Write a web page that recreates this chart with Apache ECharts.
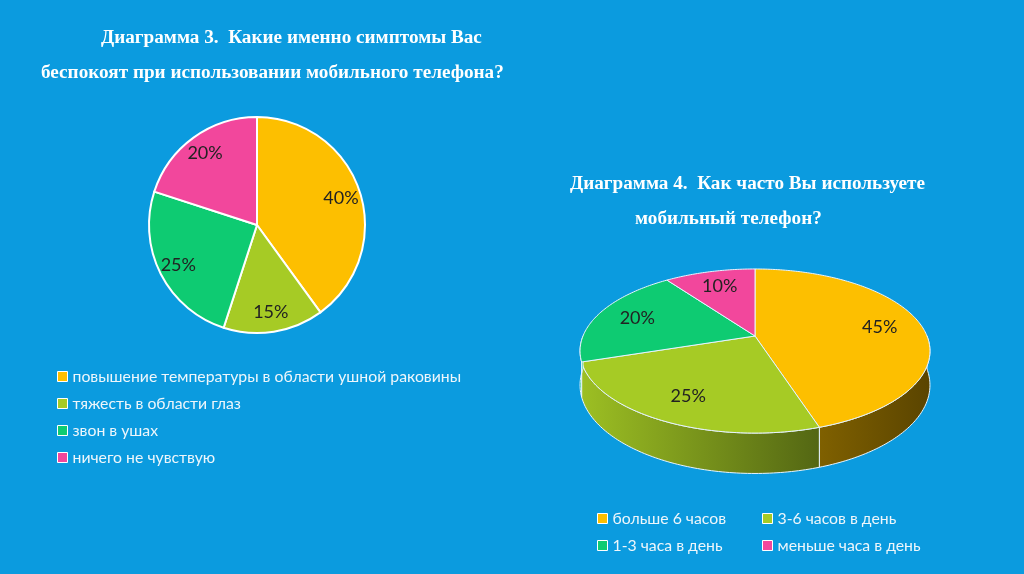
<!DOCTYPE html>
<html>
<head>
<meta charset="utf-8">
<script src="https://cdn.jsdelivr.net/npm/echarts@6/dist/echarts.min.js"></script>
<style>
html,body{margin:0;padding:0;background:#0b9bdf;}
#chart{width:1024px;height:574px;}
</style>
</head>
<body>
<div id="chart"></div>
<script>
// ---- data ----
const titles1 = ['Диаграмма 3.  Какие именно симптомы Вас', 'беспокоят при использовании мобильного телефона?'];
const titles2 = ['Диаграмма 4.  Как часто Вы используете', 'мобильный телефон?'];
const categories1 = ['повышение температуры в области ушной раковины', 'тяжесть в области глаз', 'звон в ушах', 'ничего не чувствую'];
const values1 = [40, 15, 25, 20];
const categories2 = ['больше 6 часов', '3-6 часов в день', '1-3 часа в день', 'меньше часа в день'];
const values2 = [45, 25, 20, 10];
const colors = ['#FDBF00', '#A6CB25', '#0ECB72', '#F2479C'];

// ---- layout ----
const BG = '#0b9bdf';
const P1 = {cx: 257, cy: 225, r: 108};
const P2 = {cx: 755, cy: 336, rx: 172, ry: 79.3, e: 0.183, depth: 33};
const LABEL_FONT = '"Lato", "Open Sans", sans-serif';
const TITLE_FONT = '"Liberation Serif", "DejaVu Serif", serif';

function shade(hex, f) {
  const n = parseInt(hex.slice(1), 16);
  const r = Math.round(((n >> 16) & 255) * f), g = Math.round(((n >> 8) & 255) * f), b = Math.round((n & 255) * f);
  return 'rgb(' + r + ',' + g + ',' + b + ')';
}
function proj(t, f, dy) {
  const a = t * Math.PI / 180;
  const u = f * Math.sin(a), v = f * Math.cos(a);
  const w = 1 + P2.e * v;
  return [P2.cx + P2.rx * u / w, P2.cy + P2.ry * (-v) / w + (dy || 0) / w];
}
function arc(t1, t2, dy) {
  const pts = [];
  const n = Math.max(2, Math.ceil(Math.abs(t2 - t1)));
  for (let k = 0; k <= n; k++) pts.push(proj(t1 + (t2 - t1) * k / n, 1, dy));
  return pts;
}
const total2 = values2.reduce((s, v) => s + v, 0);

function renderPie3d(params, api) {
  const i = params.dataIndex;
  let start = 0;
  for (let j = 0; j < i; j++) start += values2[j];
  const t1 = start / total2 * 360, t2 = (start + api.value(0)) / total2 * 360;
  const col = colors[i];
  const children = [];
  const a = Math.max(t1, 90), b = Math.min(t2, 270);
  if (b > a) {
    const pts = arc(a, b, 0).concat(arc(b, a, P2.depth));
    children.push({
      type: 'polygon', shape: {points: pts},
      style: {
        fill: new echarts.graphic.LinearGradient(P2.cx - P2.rx, 0, P2.cx + P2.rx, 0, [
          {offset: 0, color: shade(col, 0.94)},
          {offset: 0.69, color: shade(col, 0.5)},
          {offset: 1, color: shade(col, 0.36)}
        ], true),
        stroke: '#e8f4ff', lineWidth: 1
      }
    });
  }
  children.push({
    type: 'polygon', shape: {points: [[P2.cx, P2.cy]].concat(arc(t1, t2, 0))},
    style: {fill: col, stroke: '#e8f4ff', lineWidth: 1}
  });
  const lp = proj((t1 + t2) / 2, 0.75, 0);
  children.push({
    type: 'text', z2: 10,
    style: {text: api.value(0) + '%', x: lp[0], y: lp[1], align: 'center', verticalAlign: 'middle',
      fill: '#222222', fontSize: 18, fontFamily: LABEL_FONT}
  });
  return {type: 'group', children: children};
}

const chart = echarts.init(document.getElementById('chart'));
const titleStyle = {color: '#ffffff', fontFamily: TITLE_FONT, fontWeight: 'bold', fontSize: 19.2};
const legendBase = {
  orient: 'vertical', icon: 'rect', itemWidth: 10, itemHeight: 10, itemGap: 10,
  itemStyle: {borderColor: '#ffffff', borderWidth: 1},
  textStyle: {color: '#eef6fb', fontFamily: LABEL_FONT, fontSize: 15.8, lineHeight: 17},
  selectedMode: false, padding: 0
};
chart.setOption({
  backgroundColor: BG,
  animation: false,
  title: [
    {text: titles1[0], left: 101, top: 29, padding: 0, textStyle: titleStyle},
    {text: titles1[1], left: 41, top: 64, padding: 0, textStyle: titleStyle},
    {text: titles2[0], left: 570, top: 175, padding: 0, textStyle: titleStyle},
    {text: titles2[1], left: 635, top: 210, padding: 0, textStyle: titleStyle}
  ],
  legend: [
    Object.assign({}, legendBase, {left: 57, top: 368, data: categories1}),
    Object.assign({}, legendBase, {left: 597, top: 510, data: [categories2[0], categories2[2]]}),
    Object.assign({}, legendBase, {left: 762, top: 510, data: [categories2[1], categories2[3]]})
  ],
  series: [
    {
      type: 'pie', center: [P1.cx, P1.cy], radius: [0, P1.r], startAngle: 90, clockwise: true,
      label: {show: false}, labelLine: {show: false}, silent: true,
      itemStyle: {borderColor: '#ffffff', borderWidth: 2},
      data: values1.map((v, i) => ({value: v, name: categories1[i], itemStyle: {color: colors[i]}}))
    },
    {
      type: 'pie', center: [P1.cx, P1.cy], radius: [P1.r * 0.58, P1.r], startAngle: 90, clockwise: true,
      silent: true, labelLine: {show: false},
      itemStyle: {color: 'rgba(0,0,0,0)', borderWidth: 0},
      label: {show: true, position: 'inside', formatter: '{c}%', color: '#222222', fontSize: 18, fontFamily: LABEL_FONT},
      data: values1.map((v, i) => ({value: v, name: categories1[i]}))
    },
    {
      type: 'pie', center: [-200, -200], radius: [0, 1], silent: true,
      label: {show: false}, labelLine: {show: false},
      data: values2.map((v, i) => ({value: v, name: categories2[i], itemStyle: {color: colors[i]}}))
    },
    {
      type: 'custom', coordinateSystem: 'none', silent: true,
      renderItem: renderPie3d,
      data: values2.map((v, i) => ({value: v, name: categories2[i]}))
    }
  ]
});
</script>
</body>
</html>
